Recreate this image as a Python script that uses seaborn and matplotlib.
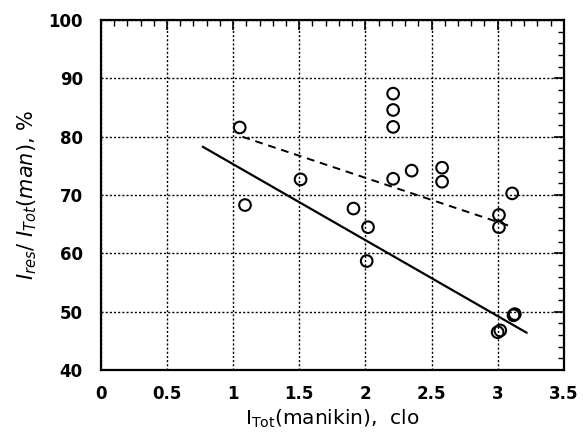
import matplotlib
matplotlib.use('Agg')
import matplotlib.pyplot as plt
import seaborn as sns
import pandas as pd
from matplotlib.ticker import MultipleLocator

# measured points: I_Tot(manikin) in clo vs I_res / I_Tot(man) in %
clo_values = [1.05, 1.09, 1.51, 1.91, 2.02, 2.01, 2.21, 2.21, 2.21, 2.21,
              2.35, 2.58, 2.58, 3.01, 3.01, 3.11, 3.12, 3.13, 3.0, 3.02]
ratio_values = [81.6, 68.3, 72.7, 67.7, 64.5, 58.7, 87.4, 84.6, 81.7, 72.8,
                74.2, 74.7, 72.3, 66.6, 64.5, 70.3, 49.4, 49.6, 46.5, 46.8]

# fitted lines (end points)
solid_x = [0.77, 3.22]
solid_y = [78.3, 46.4]
dashed_x = [1.07, 3.08]
dashed_y = [80.0, 64.8]

points = pd.DataFrame({'clo': clo_values, 'ratio': ratio_values})
solid = pd.DataFrame({'clo': solid_x, 'ratio': solid_y})
dashed = pd.DataFrame({'clo': dashed_x, 'ratio': dashed_y})

sns.set_style('white')
plt.rcParams['font.family'] = ['DejaVu Sans']
plt.rcParams['mathtext.fontset'] = 'dejavusans'
plt.rcParams['text.color'] = 'black'
plt.rcParams['axes.labelcolor'] = 'black'
plt.rcParams['xtick.color'] = 'black'
plt.rcParams['ytick.color'] = 'black'

fig = plt.figure(figsize=(5.83, 4.38), dpi=100)
ax = fig.add_axes([0.173, 0.155, 0.794, 0.799])

sns.lineplot(data=solid, x='clo', y='ratio', ax=ax, color='black', lw=1.6)
sns.lineplot(data=dashed, x='clo', y='ratio', ax=ax, color='black', lw=1.4,
             linestyle=(0, (4, 3)))
sns.scatterplot(data=points, x='clo', y='ratio', ax=ax, marker='o', s=70,
                facecolor='none', edgecolor='black', linewidth=1.5, zorder=3)

ax.set_xlim(0, 3.5)
ax.set_ylim(40, 100)
ax.xaxis.set_major_locator(MultipleLocator(0.5))
ax.xaxis.set_minor_locator(MultipleLocator(0.1))
ax.yaxis.set_major_locator(MultipleLocator(10))
ax.yaxis.set_minor_locator(MultipleLocator(2))
ax.set_xticks([0, 0.5, 1, 1.5, 2, 2.5, 3, 3.5])
ax.set_xticklabels(['0', '0.5', '1', '1.5', '2', '2.5', '3', '3.5'])

ax.grid(True, which='major', color='black', linestyle=(0, (1.5, 1.5)), lw=1.0)
ax.tick_params(which='both', direction='in', top=True, right=True,
               color='black', labelcolor='black')
ax.tick_params(which='major', length=7, width=1.2, labelsize=12)
ax.tick_params(axis='x', which='major', pad=11)
ax.tick_params(axis='y', which='major', pad=13)
ax.tick_params(which='minor', length=4, width=1.0)
for lab in ax.get_xticklabels() + ax.get_yticklabels():
    lab.set_fontweight('bold')
for sp in ax.spines.values():
    sp.set_color('black')
    sp.set_linewidth(1.6)

ax.set_xlabel(r'I$_{\mathrm{Tot}}$(manikin),  clo', fontsize=14.5,
              labelpad=3, color='black')
ax.set_ylabel(r'$I_{res}/\ I_{Tot}(man)$, %', fontsize=15, labelpad=7,
              color='black')

fig.savefig('out.png', dpi=100)
